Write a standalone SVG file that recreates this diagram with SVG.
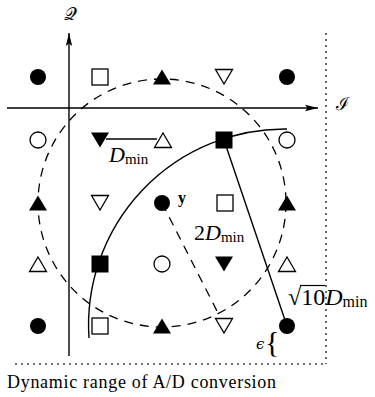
<svg xmlns="http://www.w3.org/2000/svg" width="375" height="397" viewBox="0 0 375 397">
<defs>
<style>
.f{fill:#000;stroke:none}
.o{fill:#fff;stroke:#000;stroke-width:1.3}
.ax{stroke:#000;stroke-width:1.4;fill:none}
.dot{stroke:#444;stroke-width:1.6;stroke-dasharray:2 4;fill:none}
.dash{stroke:#000;stroke-width:1.3;stroke-dasharray:9 7;fill:none}
.sol{stroke:#000;stroke-width:1.4;fill:none}
.t{font-family:"Liberation Serif","Times New Roman",serif;fill:#000}
.m{font-family:"DejaVu Serif","Liberation Serif",serif;fill:#000}
.it{font-style:italic}
.sub{font-size:15px;font-style:normal}
</style>
<marker id="arr" markerWidth="14" markerHeight="8" refX="13" refY="4" orient="auto" markerUnits="userSpaceOnUse">
<path d="M0,0.8 L13,4 L0,7.2 L2.5,4 z" fill="#000"/>
</marker>
<circle id="fc" r="8" class="f"/>
<circle id="oc" r="8" class="o"/>
<rect id="fs" x="-8.5" y="-8.5" width="17" height="17" class="f"/>
<rect id="os" x="-8" y="-8" width="16" height="16" class="o"/>
<path id="ft" d="M-9,7.5 L9,7.5 L0,-7.5 z" class="f"/>
<path id="ot" d="M-8.5,7.5 L8.5,7.5 L0,-7 z" class="o"/>
<path id="fd" d="M-9,-7.5 L9,-7.5 L0,7.5 z" class="f"/>
<path id="od" d="M-8.5,-7.5 L8.5,-7.5 L0,7 z" class="o"/>
</defs>
<rect width="375" height="397" fill="#fff"/>

<g id="frame">
<line class="dot" x1="326" y1="33" x2="326" y2="364"/>
<line class="dot" x1="15" y1="364" x2="326" y2="364"/>
</g>

<g id="axes">
<line class="ax" x1="69" y1="356" x2="69" y2="33" marker-end="url(#arr)"/>
<line class="ax" x1="7" y1="108" x2="318" y2="108" marker-end="url(#arr)"/>
<text id="Q" class="m" x="70" y="20" font-size="18" text-anchor="middle">𝒬</text>
<text id="I" class="m" x="336" y="110" font-size="18">ℐ</text>
</g>

<g id="connectors">
<circle class="dash" cx="162" cy="203" r="124"/>
<line class="dash" x1="162" y1="203" x2="218" y2="313"/>
<path class="sol" d="M287,129 A196,196 0 0 0 89,338"/>
<line class="sol" x1="224" y1="140" x2="287" y2="326"/>
<line class="sol" x1="106" y1="139" x2="157" y2="139"/>
</g>

<g id="points">
<use href="#fc" x="38" y="77"/>
<use href="#os" x="100" y="77"/>
<use href="#ft" x="162" y="77"/>
<use href="#od" x="224" y="77"/>
<use href="#fc" x="287" y="77"/>

<use href="#oc" x="38" y="140"/>
<use href="#fd" x="100" y="140"/>
<use href="#ot" x="163" y="140"/>
<use href="#fs" x="224" y="140"/>
<use href="#oc" x="287" y="140"/>

<use href="#ft" x="38" y="203"/>
<use href="#od" x="100" y="203"/>
<use href="#fc" x="162" y="203"/>
<use href="#os" x="225" y="203"/>
<use href="#ft" x="287" y="203"/>

<use href="#ot" x="38" y="264"/>
<use href="#fs" x="100" y="264"/>
<use href="#oc" x="162" y="264"/>
<use href="#fd" x="224" y="264"/>
<use href="#ot" x="287" y="264"/>

<use href="#fc" x="38" y="326"/>
<use href="#os" x="100" y="326"/>
<use href="#ft" x="162" y="326"/>
<use href="#od" x="224" y="326"/>
<use href="#fc" x="287" y="326"/>
</g>

<g id="labels">
<text class="t" x="109" y="162" font-size="22"><tspan class="it">D</tspan><tspan class="sub" dy="2">min</tspan></text>
<text class="t" x="178" y="203" font-size="16" font-weight="bold">y</text>
<text class="t" x="194" y="240" font-size="22">2<tspan class="it">D</tspan><tspan class="sub" dy="2">min</tspan></text>
<text class="t" x="288" y="305" font-size="24">√10<tspan class="it">D</tspan><tspan class="sub" dy="2" style="font-size:16px">min</tspan></text>
<line x1="300" y1="285.5" x2="325" y2="285.5" stroke="#000" stroke-width="1.2"/>
<text class="m it" x="256" y="349" font-size="15">ϵ</text>
<text class="t" x="265" y="352" font-size="30">{</text>
<text class="t" x="7" y="388" font-size="18" textLength="269">Dynamic range of A/D conversion</text>
</g>
</svg>
